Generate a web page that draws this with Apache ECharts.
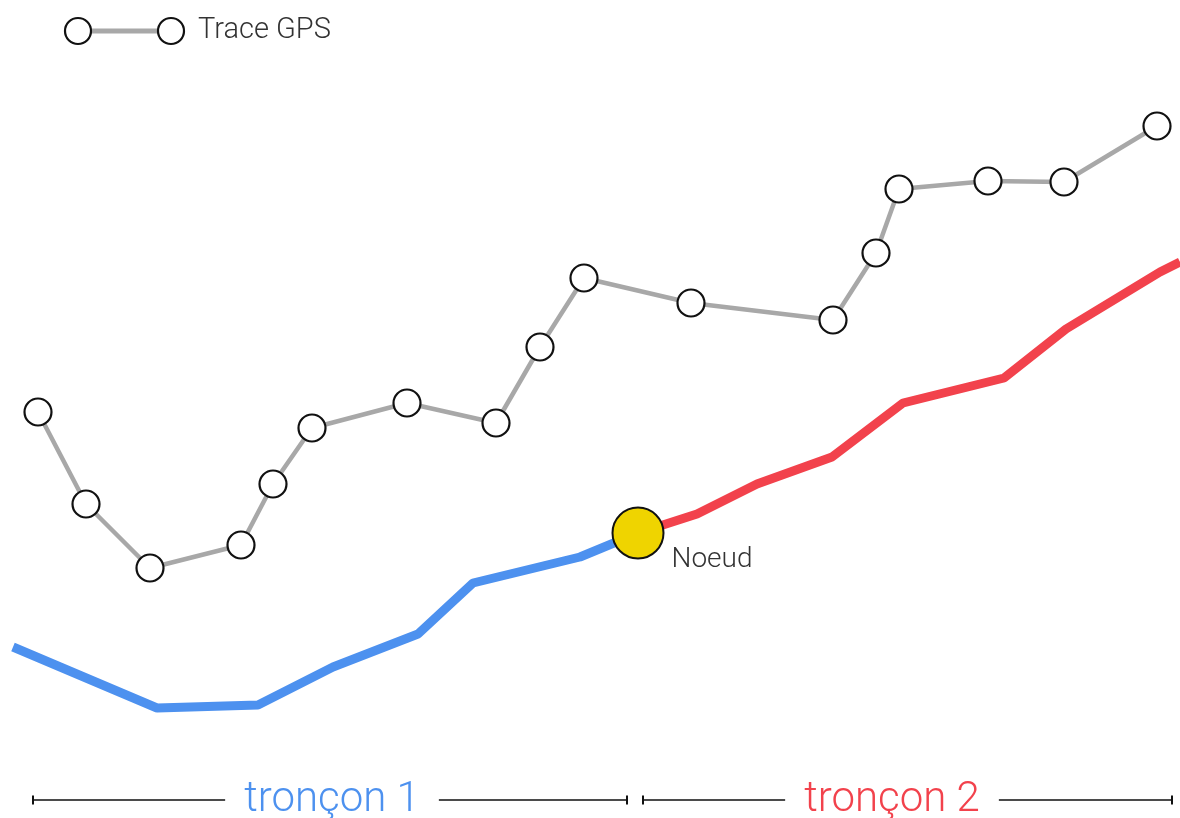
<!DOCTYPE html>
<html>
<head>
<meta charset="utf-8">
<script src="https://cdn.jsdelivr.net/npm/echarts@6/dist/echarts.min.js"></script>
<style>
  html, body { margin: 0; padding: 0; background: #fff; }
  #main { width: 1180px; height: 818px; }
</style>
</head>
<body>
<div id="main"></div>
<script>
// GPS trace points [x, y]
const traceX = [38, 86, 150, 241, 273, 312, 407, 496, 540, 584, 691, 833, 876, 899, 988, 1064, 1157];
const traceY = [406, 314, 250, 273, 334, 390, 415, 395, 471, 540, 515, 498, 565, 629, 637, 636, 692];

// road segment 1 (blue) up to the node
const seg1X = [13, 157, 258, 333, 418, 473, 580, 638];
const seg1Y = [171, 110, 113, 151, 184, 235, 261, 285];

// road segment 2 (red) from the node
const seg2X = [638, 697, 757, 832, 903, 1004, 1066, 1160, 1180];
const seg2Y = [285, 304, 334, 361, 415, 440, 489, 546, 556];

const nodePos = [638, 285];
const nodeName = 'Noeud';

// extents of each segment along the bottom
const spanNames = ['tronçon 1', 'tronçon 2'];
const spanStart = [33, 643];
const spanEnd = [627, 1172];
const spanLabelX = [332, 892];
const spanY = 18;
const spanColors = ['#4d91ef', '#f2424c'];

const zip = (xs, ys) => xs.map((x, i) => [x, ys[i]]);

const spanSeries = spanNames.map((name, i) => ({
  type: 'line',
  silent: true,
  symbol: 'rect',
  symbolSize: [2, 9],
  itemStyle: { color: '#111' },
  lineStyle: { color: '#111', width: 1.6 },
  data: [
    { value: [spanStart[i], spanY] },
    {
      value: [spanLabelX[i], spanY],
      symbolSize: [0.1, 0.1],
      itemStyle: { color: '#fff' },
      label: {
        show: true,
        position: 'inside',
        formatter: name,
        color: spanColors[i],
        fontFamily: 'Roboto',
        fontWeight: 300,
        fontSize: 42,
        backgroundColor: '#fff',
        padding: [0, 19, 4, 19]
      }
    },
    { value: [spanEnd[i], spanY] }
  ],
  z: 3
}));

const chart = echarts.init(document.getElementById('main'));
chart.setOption({
  animation: false,
  backgroundColor: '#fff',
  grid: { left: 0, right: 0, top: 0, bottom: 0 },
  xAxis: { type: 'value', min: 0, max: 1180, show: false },
  yAxis: { type: 'value', min: 0, max: 818, show: false },
  graphic: [
    { type: 'line', shape: { x1: 78, y1: 31, x2: 171, y2: 31 }, style: { stroke: '#a8a8a8', lineWidth: 5 } },
    { type: 'circle', shape: { cx: 78, cy: 31, r: 13 }, style: { fill: '#fff', stroke: '#111', lineWidth: 2.2 } },
    { type: 'circle', shape: { cx: 171, cy: 31, r: 13 }, style: { fill: '#fff', stroke: '#111', lineWidth: 2.2 } },
    { type: 'text', left: 198, top: 16, style: { text: 'Trace GPS', fill: '#333', font: '300 29px Roboto' } }
  ],
  series: [
    {
      name: 'tronçon 1',
      type: 'line',
      symbol: 'none',
      lineStyle: { color: '#4d91ef', width: 9 },
      data: zip(seg1X, seg1Y),
      z: 2
    },
    {
      name: 'tronçon 2',
      type: 'line',
      symbol: 'none',
      lineStyle: { color: '#f2424c', width: 9 },
      data: zip(seg2X, seg2Y),
      z: 2
    },
    {
      name: 'Trace GPS',
      type: 'line',
      symbol: 'circle',
      symbolSize: 27,
      itemStyle: { color: '#fff', borderColor: '#111', borderWidth: 2.2 },
      lineStyle: { color: '#a8a8a8', width: 4.5 },
      data: zip(traceX, traceY),
      z: 4
    },
    {
      name: nodeName,
      type: 'scatter',
      symbolSize: 51,
      itemStyle: { color: '#efd400', borderColor: '#111', borderWidth: 2, opacity: 1 },
      label: {
        show: true,
        formatter: nodeName,
        position: [60, 53],
        verticalAlign: 'middle',
        color: '#333',
        fontFamily: 'Roboto',
        fontWeight: 300,
        fontSize: 28
      },
      data: [nodePos],
      z: 5
    },
    ...spanSeries
  ]
});
</script>
</body>
</html>
